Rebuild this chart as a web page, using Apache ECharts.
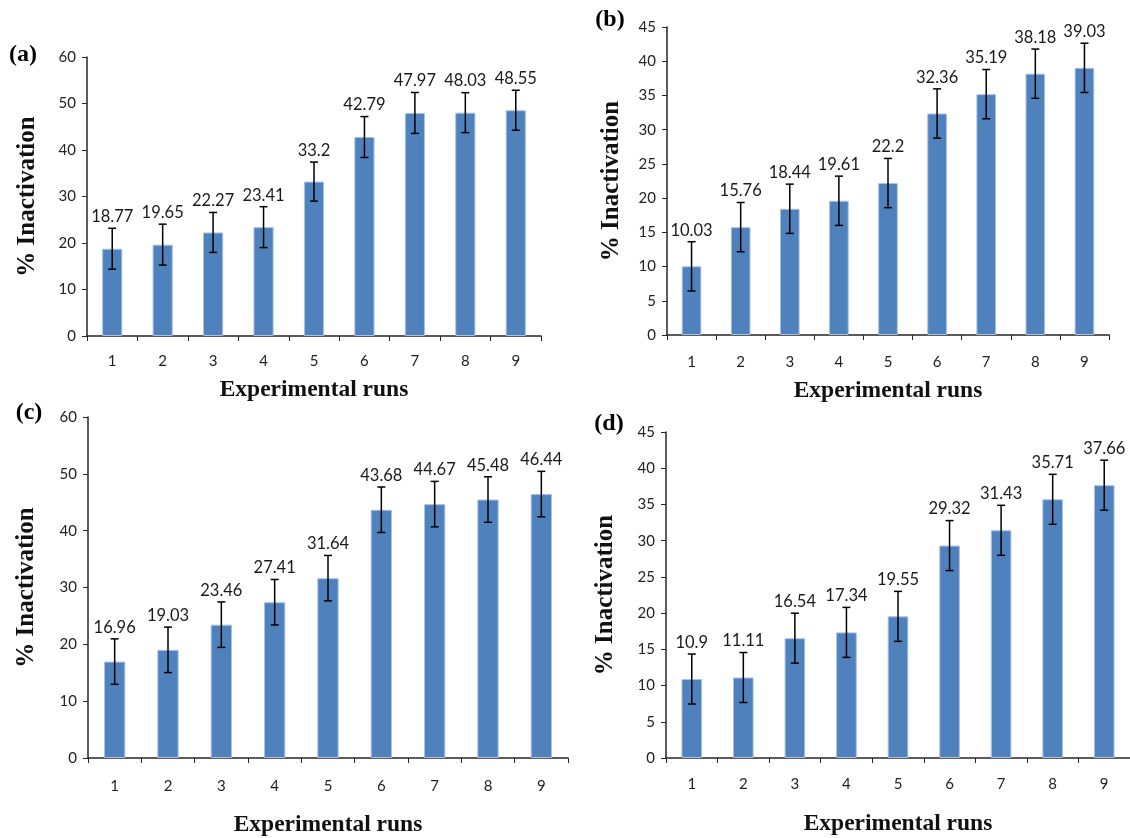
<!DOCTYPE html>
<html>
<head>
<meta charset="utf-8">
<script src="https://cdn.jsdelivr.net/npm/echarts@6/dist/echarts.min.js"></script>
<style>
  html, body { margin: 0; padding: 0; background: #fff; }
  #chart { width: 1130px; height: 838px; }
</style>
</head>
<body>
<div id="chart"></div>
<script>
  // data
  const runs = ['1', '2', '3', '4', '5', '6', '7', '8', '9'];
  const valsA = [18.77, 19.65, 22.27, 23.41, 33.2, 42.79, 47.97, 48.03, 48.55];
  const errA = [4.4, 4.4, 4.3, 4.4, 4.2, 4.4, 4.4, 4.3, 4.3];
  const valsB = [10.03, 15.76, 18.44, 19.61, 22.2, 32.36, 35.19, 38.18, 39.03];
  const errB = [3.6, 3.6, 3.6, 3.6, 3.6, 3.6, 3.6, 3.6, 3.6];
  const valsC = [16.96, 19.03, 23.46, 27.41, 31.64, 43.68, 44.67, 45.48, 46.44];
  const errC = [4.0, 4.0, 4.0, 4.0, 4.0, 4.0, 4.0, 4.0, 4.0];
  const valsD = [10.9, 11.11, 16.54, 17.34, 19.55, 29.32, 31.43, 35.71, 37.66];
  const errD = [3.45, 3.45, 3.45, 3.45, 3.45, 3.45, 3.45, 3.45, 3.45];
  const panelTags = ['(a)', '(b)', '(c)', '(d)'];

  const panels = [
    { vals: valsA, err: errA, max: 60, step: 10, grid: { left: 87, top: 57, width: 454, height: 279 }, xGap: 42, xMargin: 18, yGap: 47, tag: [23, 55] },
    { vals: valsB, err: errB, max: 45, step: 5, grid: { left: 667, top: 27, width: 442, height: 308 }, xGap: 44, xMargin: 20, yGap: 43, tag: [610, 20] },
    { vals: valsC, err: errC, max: 60, step: 10, grid: { left: 88, top: 417, width: 480, height: 342 }, xGap: 55, xMargin: 21, yGap: 49, tag: [29, 413] },
    { vals: valsD, err: errD, max: 45, step: 5, grid: { left: 666, top: 432, width: 468, height: 326 }, xGap: 54, xMargin: 19, yGap: 48, tag: [609, 424] }
  ];

  const axisColor = '#262626';
  const tickFont = { fontFamily: 'Lato', fontSize: 15, color: '#222' };
  const xTitleFont = { fontFamily: 'Liberation Serif', fontWeight: 'bold', fontSize: 23.5, color: '#111' };
  const yTitleFont = { fontFamily: 'Liberation Serif', fontWeight: 'bold', fontSize: 25, color: '#111' };

  let myChart = echarts.init(document.getElementById('chart'));

  const grids = [], xAxes = [], yAxes = [], series = [], graphics = [];

  panels.forEach((p, k) => {
    grids.push(Object.assign({ containLabel: false }, p.grid));
    xAxes.push({
      gridIndex: k,
      type: 'category',
      data: runs,
      boundaryGap: true,
      name: 'Experimental runs',
      nameLocation: 'middle',
      nameGap: p.xGap,
      nameTextStyle: xTitleFont,
      axisLine: { lineStyle: { color: axisColor, width: 1.5 } },
      axisTick: { show: true, length: 5, lineStyle: { color: axisColor } },
      axisLabel: Object.assign({ margin: p.xMargin }, tickFont)
    });
    yAxes.push({
      gridIndex: k,
      type: 'value',
      min: 0,
      max: p.max,
      interval: p.step,
      name: '% Inactivation',
      nameLocation: 'middle',
      nameRotate: 90,
      nameGap: p.yGap,
      nameTextStyle: yTitleFont,
      splitLine: { show: false },
      axisLine: { show: true, lineStyle: { color: axisColor, width: 1.5 } },
      axisTick: { show: true, length: 5, lineStyle: { color: axisColor } },
      axisLabel: Object.assign({ margin: 11 }, tickFont)
    });
    series.push({
      type: 'bar',
      xAxisIndex: k,
      yAxisIndex: k,
      data: p.vals,
      barWidth: '40%',
      itemStyle: { color: '#4F81BD', borderColor: '#a9c2e0', borderWidth: 1 },
      silent: true
    });
    //误差线 + 数值标签
    series.push({
      type: 'custom',
      xAxisIndex: k,
      yAxisIndex: k,
      data: p.vals.map((v, i) => [i, v - p.err[i], v + p.err[i], v]),
      encode: { x: 0, y: [1, 2] },
      z: 5,
      silent: true,
      renderItem: function (params, api) {
        const lo = api.coord([api.value(0), api.value(1)]);
        const hi = api.coord([api.value(0), api.value(2)]);
        const cap = 4;
        const style = { stroke: '#000', lineWidth: 1.5 };
        return {
          type: 'group',
          children: [
            { type: 'line', shape: { x1: hi[0], y1: hi[1], x2: lo[0], y2: lo[1] }, style: style },
            { type: 'line', shape: { x1: hi[0] - cap, y1: hi[1], x2: hi[0] + cap, y2: hi[1] }, style: style },
            { type: 'line', shape: { x1: lo[0] - cap, y1: lo[1], x2: lo[0] + cap, y2: lo[1] }, style: style },
            {
              type: 'text',
              x: hi[0],
              y: hi[1] - 3,
              style: {
                text: String(api.value(3)),
                textAlign: 'center',
                textVerticalAlign: 'bottom',
                font: '16.5px Lato',
                fill: '#1a1a1a'
              }
            }
          ]
        };
      }
    });
    graphics.push({
      type: 'text',
      x: p.tag[0],
      y: p.tag[1],
      style: {
        text: panelTags[k],
        font: 'bold 24px "Liberation Serif"',
        fill: '#000',
        textAlign: 'center',
        textVerticalAlign: 'middle'
      }
    });
  });

  myChart.setOption({
    animation: false,
    backgroundColor: '#fff',
    grid: grids,
    xAxis: xAxes,
    yAxis: yAxes,
    series: series,
    graphic: graphics
  });
</script>
</body>
</html>
